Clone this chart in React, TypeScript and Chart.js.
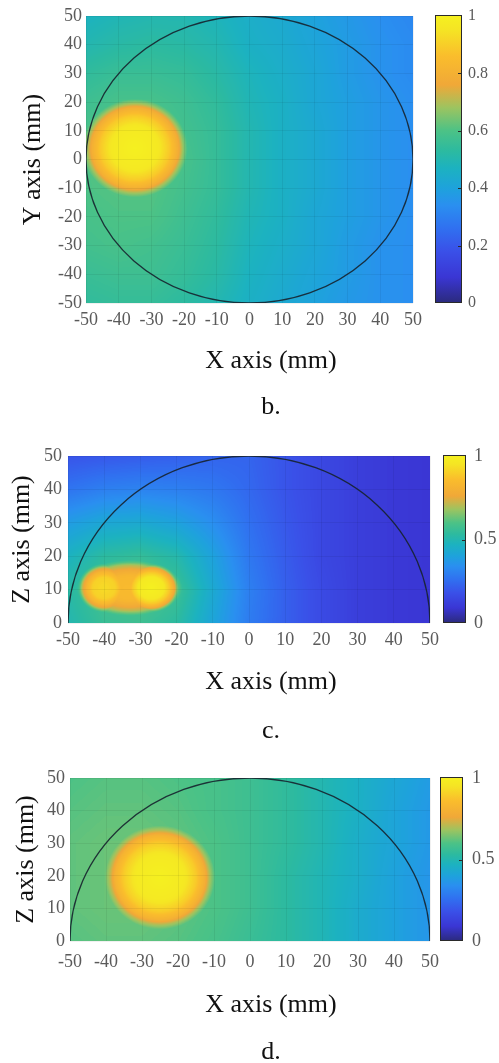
import React, { useEffect, useRef } from 'react';
import { Chart, registerables } from 'chart.js';

Chart.register(...registerables);

const SERIF = '"Liberation Serif", "Times New Roman", Times, serif';
const TICK_COLOR = '#5a5a5a';
const TEXT_COLOR = '#111111';
const GRID_COLOR = 'rgba(0,0,0,0.06)';

// ---------------- data ----------------
const xAxisTicks = [-50, -40, -30, -20, -10, 0, 10, 20, 30, 40, 50];
const yAxisTicksB = [-50, -40, -30, -20, -10, 0, 10, 20, 30, 40, 50];
const zAxisTicks = [0, 10, 20, 30, 40, 50];
const colorbarTicksB = [0, 0.2, 0.4, 0.6, 0.8, 1];
const colorbarTicksCD = [0, 0.5, 1];

// grid nodes (mm) where the background field was read
const gridX = [-50, -40, -30, -20, -10, 0, 10, 20, 30, 40, 50];
const gridYB = [50, 40, 30, 20, 10, 0, -10, -20, -30, -40, -50];
const gridZ = [50, 40, 30, 20, 10, 0];

// panel b (X-Y plane), rows follow gridYB
const fieldB = [
  [0.47, 0.49, 0.50, 0.50, 0.48, 0.45, 0.43, 0.40, 0.37, 0.34, 0.32],
  [0.50, 0.52, 0.53, 0.52, 0.50, 0.46, 0.44, 0.41, 0.38, 0.35, 0.33],
  [0.54, 0.56, 0.56, 0.55, 0.52, 0.48, 0.45, 0.42, 0.38, 0.35, 0.33],
  [0.57, 0.59, 0.59, 0.57, 0.54, 0.49, 0.46, 0.42, 0.39, 0.36, 0.34],
  [0.59, 0.61, 0.61, 0.58, 0.55, 0.50, 0.46, 0.43, 0.39, 0.36, 0.34],
  [0.60, 0.62, 0.61, 0.59, 0.55, 0.50, 0.46, 0.43, 0.39, 0.36, 0.34],
  [0.60, 0.61, 0.61, 0.58, 0.55, 0.50, 0.46, 0.43, 0.39, 0.36, 0.34],
  [0.59, 0.60, 0.60, 0.57, 0.54, 0.49, 0.46, 0.42, 0.39, 0.36, 0.34],
  [0.58, 0.59, 0.58, 0.56, 0.53, 0.48, 0.45, 0.42, 0.38, 0.35, 0.34],
  [0.56, 0.57, 0.57, 0.55, 0.52, 0.47, 0.44, 0.41, 0.38, 0.35, 0.34],
  [0.54, 0.55, 0.55, 0.53, 0.50, 0.46, 0.43, 0.40, 0.37, 0.35, 0.34],
];

// panel c (X-Z plane), rows follow gridZ
const fieldC = [
  [0.19, 0.20, 0.21, 0.22, 0.23, 0.23, 0.19, 0.15, 0.12, 0.10, 0.09],
  [0.27, 0.30, 0.31, 0.30, 0.28, 0.24, 0.19, 0.15, 0.12, 0.10, 0.09],
  [0.38, 0.42, 0.43, 0.40, 0.34, 0.26, 0.20, 0.15, 0.12, 0.10, 0.09],
  [0.47, 0.53, 0.55, 0.51, 0.40, 0.28, 0.21, 0.15, 0.12, 0.10, 0.09],
  [0.52, 0.59, 0.61, 0.57, 0.43, 0.30, 0.22, 0.16, 0.12, 0.10, 0.09],
  [0.50, 0.56, 0.57, 0.53, 0.41, 0.29, 0.22, 0.16, 0.12, 0.10, 0.09],
];

// panel d (X-Z plane), rows follow gridZ
const fieldD = [
  [0.60, 0.61, 0.61, 0.60, 0.59, 0.57, 0.54, 0.50, 0.46, 0.42, 0.38],
  [0.61, 0.62, 0.62, 0.61, 0.59, 0.57, 0.54, 0.50, 0.46, 0.41, 0.37],
  [0.62, 0.63, 0.63, 0.62, 0.60, 0.57, 0.54, 0.50, 0.45, 0.41, 0.37],
  [0.62, 0.63, 0.63, 0.62, 0.60, 0.57, 0.53, 0.49, 0.45, 0.40, 0.36],
  [0.62, 0.63, 0.63, 0.62, 0.60, 0.57, 0.53, 0.49, 0.44, 0.40, 0.36],
  [0.61, 0.62, 0.62, 0.61, 0.59, 0.56, 0.53, 0.49, 0.44, 0.40, 0.36],
];

// bright inclusions: centre (mm), half extents (mm), peak value
const hotspotsB = [{ x: -35, y: 4, rx: 15.5, ry: 16.5, peak: 1.0 }];
const hotspotsC = [
  { x: -33, y: 10.5, rx: 14, ry: 8, peak: 0.85 },
  { x: -40, y: 10.5, rx: 7, ry: 7, peak: 0.93 },
  { x: -27, y: 10.5, rx: 7.5, ry: 7, peak: 1.0 },
];
const hotspotsD = [{ x: -25, y: 19.5, rx: 14.7, ry: 15.3, peak: 1.0 }];

// share of (peak - background) kept at a given fraction of the inclusion radius
const hotspotFalloff: [number, number][] = [
  [0, 1], [0.45, 0.93], [0.68, 0.72], [0.85, 0.48], [0.95, 0.2], [1.04, 0],
];

const boundaryRadius = 50;

// colour map (value -> colour)
const colormapStops: [number, string][] = [
  [0.0, '#2b2a7c'], [0.09, '#3a36d4'], [0.18, '#3a50e8'], [0.26, '#3070f0'],
  [0.34, '#2a8ff0'], [0.4, '#1ea2dc'], [0.47, '#1cb2c0'], [0.53, '#2cbaa0'],
  [0.6, '#4cc286'], [0.68, '#9cc460'], [0.76, '#f0a838'], [0.86, '#fabd2c'],
  [0.95, '#f5e424'], [1.0, '#f5f020'],
];

// ---------------- helpers ----------------
function hexToRgb(h: string) {
  const n = parseInt(h.slice(1), 16);
  return [(n >> 16) & 255, (n >> 8) & 255, n & 255];
}
const LUT = (() => {
  const lut = new Uint8ClampedArray(256 * 3);
  const rgb = colormapStops.map(([t, c]) => [t, ...hexToRgb(c)]);
  for (let i = 0; i < 256; i++) {
    const t = i / 255;
    let k = 0;
    while (k < rgb.length - 2 && t > rgb[k + 1][0]) k++;
    const a = rgb[k], b = rgb[k + 1];
    const f = Math.min(1, Math.max(0, (t - a[0]) / (b[0] - a[0])));
    for (let c = 0; c < 3; c++) lut[i * 3 + c] = a[c + 1] + (b[c + 1] - a[c + 1]) * f;
  }
  return lut;
})();

function locate(arr: number[], v: number): [number, number] {
  const n = arr.length;
  for (let k = 0; k < n - 1; k++) {
    const a = arr[k], b = arr[k + 1];
    if (v >= Math.min(a, b) && v <= Math.max(a, b)) return [k, (v - a) / (b - a)];
  }
  const asc = arr[n - 1] > arr[0];
  if ((asc && v < arr[0]) || (!asc && v > arr[0])) return [0, 0];
  return [n - 2, 1];
}

const FALLOFF_END = hotspotFalloff[hotspotFalloff.length - 1][0];
function falloffAt(d: number) {
  for (let k = 0; k < hotspotFalloff.length - 1; k++) {
    const [d0, w0] = hotspotFalloff[k];
    const [d1, w1] = hotspotFalloff[k + 1];
    if (d <= d1) return w0 + (w1 - w0) * ((d - d0) / (d1 - d0));
  }
  return 0;
}

type Hot = { x: number; y: number; rx: number; ry: number; peak: number };
type PanelCfg = {
  key: string; letter: string; yTitle: string; top: number; height: number;
  yMin: number; yMax: number; yTicks: number[]; gridY: number[]; field: number[][];
  hotspots: Hot[]; arc: 'full' | 'upper'; cbTicks: number[];
  padTop: number; padBottom: number; yAxisWidth: number; yTitlePad: number; yTickPad: number;
  xTickPad: number; xAxisHeight: number; subPadTop: number; titlePadTop: number;
  rightWidth: number; cbOffset: number; cbWidth: number; cbTickPad: number; cbFont: number;
};

const CANVAS_W = 542;

const panels: PanelCfg[] = [
  {
    key: 'b', letter: 'b.', yTitle: 'Y axis (mm)', top: 0, height: 424,
    yMin: -50, yMax: 50, yTicks: yAxisTicksB, gridY: gridYB, field: fieldB,
    hotspots: hotspotsB, arc: 'full', cbTicks: colorbarTicksB,
    padTop: 16, padBottom: 0.8, yAxisWidth: 86, yTitlePad: 17.4, yTickPad: 4,
    xTickPad: 6, xAxisHeight: 30, subPadTop: 12.8, titlePadTop: 15,
    rightWidth: 129, cbOffset: 22, cbWidth: 27, cbTickPad: 55, cbFont: 16,
  },
  {
    key: 'c', letter: 'c.', yTitle: 'Z axis (mm)', top: 425, height: 322,
    yMin: 0, yMax: 50, yTicks: zAxisTicks, gridY: gridZ, field: fieldC,
    hotspots: hotspotsC, arc: 'upper', cbTicks: colorbarTicksCD,
    padTop: 31, padBottom: 0.4, yAxisWidth: 68, yTitlePad: 6.4, yTickPad: 6,
    xTickPad: 6, xAxisHeight: 30, subPadTop: 13.4, titlePadTop: 17.8,
    rightWidth: 112, cbOffset: 13, cbWidth: 23, cbTickPad: 44, cbFont: 18,
  },
  {
    key: 'd', letter: 'd.', yTitle: 'Z axis (mm)', top: 747, height: 321,
    yMin: 0, yMax: 50, yTicks: zAxisTicks, gridY: gridZ, field: fieldD,
    hotspots: hotspotsD, arc: 'upper', cbTicks: colorbarTicksCD,
    padTop: 31, padBottom: 0.4, yAxisWidth: 70, yTitlePad: 10.4, yTickPad: 5,
    xTickPad: 10, xAxisHeight: 32, subPadTop: 16.4, titlePadTop: 15.8,
    rightWidth: 112, cbOffset: 10, cbWidth: 23, cbTickPad: 42, cbFont: 18,
  },
];

function makeFieldPlugin(cfg: PanelCfg) {
  return {
    id: 'field_' + cfg.key,
    beforeDraw(chart: any) {
      const { ctx, chartArea } = chart;
      const xs = chart.scales.x, ys = chart.scales.y;
      const left = Math.round(chartArea.left), top = Math.round(chartArea.top);
      const w = Math.round(chartArea.right) - left, h = Math.round(chartArea.bottom) - top;
      const img = ctx.createImageData(w, h);
      const colV: number[] = [], colLoc: [number, number][] = [];
      for (let i = 0; i < w; i++) {
        const v = xs.getValueForPixel(left + i + 0.5);
        colV.push(v); colLoc.push(locate(gridX, v));
      }
      for (let j = 0; j < h; j++) {
        const vy = ys.getValueForPixel(top + j + 0.5);
        const [rj, ty] = locate(cfg.gridY, vy);
        const r0 = cfg.field[rj], r1 = cfg.field[rj + 1];
        for (let i = 0; i < w; i++) {
          const [ci, tx] = colLoc[i];
          const a = r0[ci] + (r0[ci + 1] - r0[ci]) * tx;
          const b = r1[ci] + (r1[ci + 1] - r1[ci]) * tx;
          const bg = a + (b - a) * ty;
          let v = bg;
          const vx = colV[i];
          for (const hs of cfg.hotspots) {
            const dx = (vx - hs.x) / hs.rx, dy = (vy - hs.y) / hs.ry;
            const d = Math.sqrt(dx * dx + dy * dy);
            if (d < FALLOFF_END) v = Math.max(v, bg + (hs.peak - bg) * falloffAt(d));
          }
          const li = Math.max(0, Math.min(255, Math.round(v * 255))) * 3;
          const p = (j * w + i) * 4;
          img.data[p] = LUT[li]; img.data[p + 1] = LUT[li + 1]; img.data[p + 2] = LUT[li + 2]; img.data[p + 3] = 255;
        }
      }
      ctx.putImageData(img, left, top);
    },
    afterDraw(chart: any) {
      const { ctx, chartArea } = chart;
      const xs = chart.scales.x, ys = chart.scales.y, cb = chart.scales.cb;
      // boundary of the phantom
      const cx = xs.getPixelForValue(0), cy = ys.getPixelForValue(0);
      const rx = xs.getPixelForValue(boundaryRadius) - cx;
      const ry = cy - ys.getPixelForValue(boundaryRadius);
      ctx.save();
      ctx.beginPath();
      ctx.rect(chartArea.left, chartArea.top, chartArea.right - chartArea.left, chartArea.bottom - chartArea.top);
      ctx.clip();
      ctx.beginPath();
      if (cfg.arc === 'full') ctx.ellipse(cx, cy, rx, ry, 0, 0, Math.PI * 2);
      else ctx.ellipse(cx, cy, rx, ry, 0, Math.PI, Math.PI * 2);
      ctx.strokeStyle = 'rgba(22,34,46,0.9)';
      ctx.lineWidth = 1.3;
      ctx.stroke();
      ctx.restore();
      // colour bar
      const yTop = cb.getPixelForValue(1), yBot = cb.getPixelForValue(0);
      const x0 = chartArea.right + cfg.cbOffset;
      const g = ctx.createLinearGradient(0, yBot, 0, yTop);
      colormapStops.forEach(([t, c]) => g.addColorStop(t, c));
      ctx.save();
      ctx.fillStyle = g;
      ctx.fillRect(x0, yTop - 1, cfg.cbWidth, yBot - yTop + 1);
      ctx.strokeStyle = '#2a2a2a';
      ctx.lineWidth = 1;
      ctx.strokeRect(x0 + 0.5, yTop - 0.5, cfg.cbWidth - 1, yBot - yTop);
      ctx.beginPath();
      for (const t of cb.ticks) {
        if (t.value <= 0 || t.value >= 1) continue;
        const p = Math.round(cb.getPixelForValue(t.value)) + 0.5;
        ctx.moveTo(x0 + cfg.cbWidth - 4, p);
        ctx.lineTo(x0 + cfg.cbWidth, p);
      }
      ctx.stroke();
      ctx.restore();
    },
  };
}

const plainNumber = (v: number | string) => String(Number(v));

function buildConfig(cfg: PanelCfg): any {
  const tickFont = { family: SERIF, size: 18 };
  const titleFont = { family: SERIF, size: 26, weight: 'normal' as const, lineHeight: 1.2 };
  return {
    type: 'scatter',
    data: { datasets: [] },
    options: {
      responsive: false,
      animation: false,
      devicePixelRatio: 1,
      events: [],
      layout: { padding: { top: cfg.padTop, bottom: cfg.padBottom, left: 0, right: 0 } },
      plugins: {
        legend: { display: false },
        tooltip: { enabled: false },
        title: {
          display: true, text: cfg.letter, position: 'bottom', color: TEXT_COLOR,
          font: titleFont, padding: { top: cfg.titlePadTop, bottom: 0 },
        },
        subtitle: {
          display: true, text: 'X axis (mm)', position: 'bottom', color: TEXT_COLOR,
          font: titleFont, padding: { top: cfg.subPadTop, bottom: 0 },
        },
      },
      scales: {
        x: {
          type: 'linear', position: 'bottom', min: -50, max: 50,
          afterBuildTicks: (s: any) => { s.ticks = xAxisTicks.map((v) => ({ value: v })); },
          afterFit: (s: any) => { s.height = cfg.xAxisHeight; },
          ticks: { padding: cfg.xTickPad, color: TICK_COLOR, font: tickFont, autoSkip: false, maxRotation: 0, callback: plainNumber },
          grid: { color: GRID_COLOR, drawTicks: false },
          border: { display: false },
        },
        y: {
          type: 'linear', position: 'left', min: cfg.yMin, max: cfg.yMax,
          afterBuildTicks: (s: any) => { s.ticks = cfg.yTicks.map((v) => ({ value: v })); },
          afterFit: (s: any) => { s.width = cfg.yAxisWidth; s.paddingTop = 0; s.paddingBottom = 0; },
          ticks: { padding: cfg.yTickPad, color: TICK_COLOR, font: tickFont, autoSkip: false, callback: plainNumber },
          grid: { color: GRID_COLOR, drawTicks: false },
          border: { display: false },
          title: {
            display: true, text: cfg.yTitle, color: TEXT_COLOR, font: titleFont,
            padding: { top: cfg.yTitlePad, bottom: 0 },
          },
        },
        cb: {
          type: 'linear', position: 'right', min: 0, max: 1,
          afterBuildTicks: (s: any) => { s.ticks = cfg.cbTicks.map((v) => ({ value: v })); },
          afterFit: (s: any) => { s.width = cfg.rightWidth; s.paddingTop = 0; s.paddingBottom = 0; },
          ticks: {
            padding: cfg.cbTickPad, color: TICK_COLOR, font: { family: SERIF, size: cfg.cbFont },
            autoSkip: false, callback: plainNumber,
          },
          grid: { display: false, drawTicks: false },
          border: { display: false },
        },
      },
    },
    plugins: [makeFieldPlugin(cfg)],
  };
}

function Panel({ cfg }: { cfg: PanelCfg }) {
  const ref = useRef<HTMLCanvasElement>(null);
  useEffect(() => {
    const chart = new Chart(ref.current as HTMLCanvasElement, buildConfig(cfg));
    return () => chart.destroy();
  }, [cfg]);
  return (
    <canvas
      ref={ref}
      width={CANVAS_W}
      height={cfg.height}
      style={{ position: 'absolute', left: 0, top: cfg.top, width: CANVAS_W, height: cfg.height }}
    />
  );
}

export default function App() {
  return (
    <div
      style={{
        position: 'absolute', left: 0, top: 0, width: 499, height: 1063,
        overflow: 'hidden', background: '#ffffff',
      }}
    >
      {panels.map((p) => (
        <Panel key={p.key} cfg={p} />
      ))}
    </div>
  );
}
